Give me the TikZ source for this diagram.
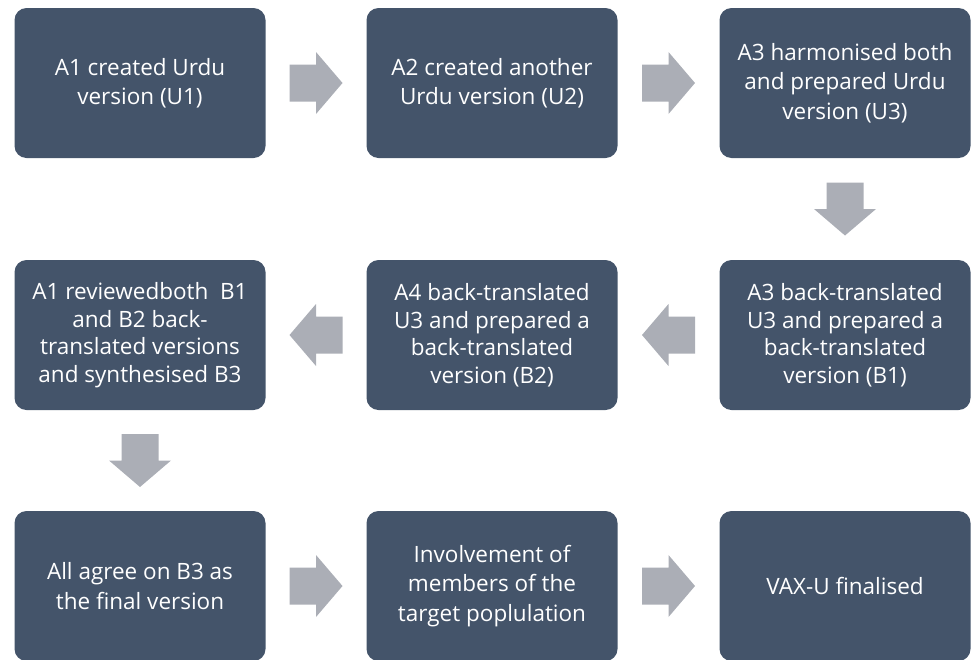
\documentclass[tikz,border=0pt]{standalone}
\usepackage{fontspec}
\setmainfont{Open Sans}
\usetikzlibrary{calc}
\definecolor{boxblue}{RGB}{68,84,106}
\definecolor{arrowgray}{RGB}{171,174,182}
\tikzset{
  stepbox/.style={fill=boxblue, rounded corners=12pt, minimum width=251pt, minimum height=150pt,
    text=white, align=center, inner sep=0pt, font=\fontsize{22.5}{29.5}\selectfont},
  tightbox/.style={stepbox, font=\fontsize{22.5}{27.5}\selectfont},
  blockarrow/.pic={\fill[arrowgray] (-26.5,-18.5) -- (0,-18.5) -- (0,-31) -- (26.5,0) -- (0,31) -- (0,18.5) -- (-26.5,18.5) -- cycle;}
}
\begin{document}
\begin{tikzpicture}[x=1pt,y=-1pt]
\useasboundingbox (0,0) rectangle (971,659);
\begin{scope}
\clip (0,0) rectangle (971,659);
\node[stepbox] (b1) at (140,83) {A1 created Urdu\\version (U1)};
\node[stepbox] (b2) at (492,83) {A2 created another\\Urdu version (U2)};
\node[stepbox] (b3) at (845,83) {A3 harmonised both\\and prepared Urdu\\version (U3)};
\node[tightbox] (b4) at (845,335) {A3 back-translated\\U3 and prepared a\\back-translated\\version (B1)};
\node[tightbox] (b5) at (492,335) {A4 back-translated\\U3 and prepared a\\back-translated\\version (B2)};
\node[tightbox] (b6) at (140,335) {A1 reviewedboth\ \ B1\\and B2 back-\\translated versions\\and synthesised B3};
\node[stepbox] (b7) at (140,586) {All agree on B3 as\\the final version};
\node[stepbox] (b8) at (492,586) {Involvement of\\members of the\\target poplulation};
\node[stepbox] (b9) at (845,586) {VAX-U finalised};
\end{scope}
\pic at ($(b1.east)!0.5!(b2.west)$) {blockarrow};
\pic at ($(b2.east)!0.5!(b3.west)$) {blockarrow};
\pic[rotate=-90] at ($(b3.south)!0.5!(b4.north)$) {blockarrow};
\pic[rotate=180] at ($(b4.west)!0.5!(b5.east)$) {blockarrow};
\pic[rotate=180] at ($(b5.west)!0.5!(b6.east)$) {blockarrow};
\pic[rotate=-90] at ($(b6.south)!0.5!(b7.north)$) {blockarrow};
\pic at ($(b7.east)!0.5!(b8.west)$) {blockarrow};
\pic at ($(b8.east)!0.5!(b9.west)$) {blockarrow};
\end{tikzpicture}
\end{document}
